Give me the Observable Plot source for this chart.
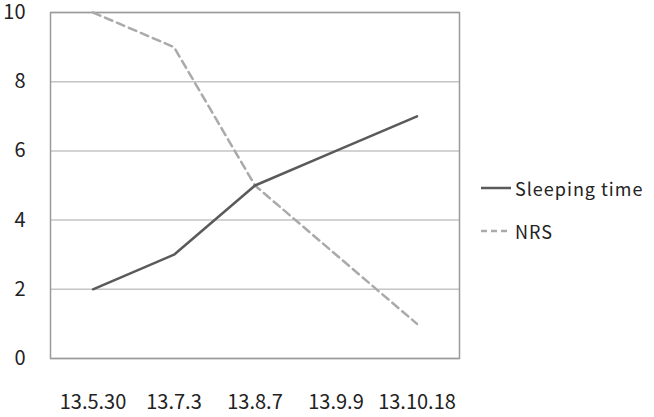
<!DOCTYPE html>
<html>
<head>
<meta charset="utf-8">
<script src="https://cdn.jsdelivr.net/npm/d3@7"></script>
<script src="https://cdn.jsdelivr.net/npm/@observablehq/plot@0.6"></script>
<style>
  html, body { margin: 0; padding: 0; background: #fff; }
  #wrap { position: relative; width: 654px; height: 417px; }
  .legend { position: absolute; font-family: "Noto Sans CJK KR", "Noto Sans", sans-serif; font-size: 18px; color: #222; letter-spacing: 1px; }
  .legend .row { position: absolute; left: 0; white-space: nowrap; display: flex; align-items: center; }
  .legend svg { margin-right: 4px; }
</style>
</head>
<body>
<div id="wrap"></div>
<script>
const dates = ["13.5.30", "13.7.3", "13.8.7", "13.9.9", "13.10.18"];
const sleepingTime = [2, 3, 5, 6, 7];
const nrs = [10, 9, 5, 3, 1];
const yTicks = [0, 2, 4, 6, 8, 10];
const seriesNames = ["Sleeping time", "NRS"];

const rows = [];
dates.forEach((d, i) => rows.push({date: d, value: sleepingTime[i], series: seriesNames[0]}));
dates.forEach((d, i) => rows.push({date: d, value: nrs[i], series: seriesNames[1]}));

const font = '"Noto Sans CJK KR", "Noto Sans", sans-serif';

const chart = Plot.plot({
  width: 654,
  height: 417,
  marginLeft: 50,
  marginRight: 195,
  marginTop: 12,
  marginBottom: 59,
  style: {fontFamily: font, fontSize: "20px", color: "#222", background: "#fff", overflow: "visible"},
  x: {type: "band", domain: dates, padding: 0, align: 0.5},
  y: {domain: [0, 10]},
  marks: [
    Plot.ruleY(yTicks, {stroke: "#c4c4c4", strokeWidth: 1.5}),
    Plot.frame({stroke: "#9a9a9a", strokeWidth: 1.5}),
    Plot.axisX({tickSize: 0, tickPadding: 36, label: null, fontSize: 20, fill: "#222"}),
    Plot.axisY({ticks: yTicks, tickSize: 0, tickPadding: 25, label: null, fontSize: 20, fill: "#222"}),
    Plot.line(rows.filter(r => r.series === "NRS"), {x: "date", y: "value", stroke: "#aaaaaa", strokeWidth: 2.5, strokeDasharray: "8,5"}),
    Plot.line(rows.filter(r => r.series === "Sleeping time"), {x: "date", y: "value", stroke: "#5a5a5a", strokeWidth: 2.5})
  ]
});
const wrap = document.getElementById("wrap");
wrap.appendChild(chart);

const legend = document.createElement("div");
legend.className = "legend";
legend.style.left = "481px";
legend.style.top = "0px";
const styles = [{stroke: "#5a5a5a", dash: null, top: 175}, {stroke: "#aaaaaa", dash: "6,4", top: 218}];
seriesNames.forEach((name, i) => {
  const row = document.createElement("div");
  row.className = "row";
  row.style.top = styles[i].top + "px";
  row.innerHTML = `<svg width="30" height="6"><line x1="0" y1="3" x2="30" y2="3" stroke="${styles[i].stroke}" stroke-width="2.5" ${styles[i].dash ? `stroke-dasharray="${styles[i].dash}"` : ""}/></svg><span>${name}</span>`;
  legend.appendChild(row);
});
wrap.appendChild(legend);
</script>
</body>
</html>
